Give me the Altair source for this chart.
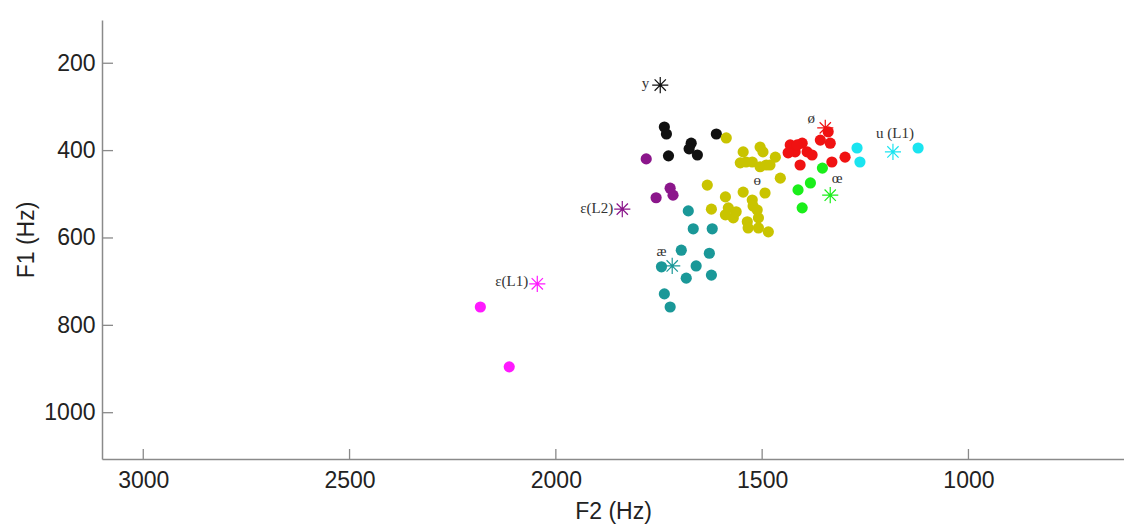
import altair as alt
import pandas as pd

# ---- data (F2, F1 in Hz) ----
groups = ["y", "ε(L2)", "ε(L1)", "æ", "ɵ", "ø", "œ", "u (L1)"]
colors = ["#111111", "#8b168b", "#ff1aff", "#1a9898", "#c9c400", "#f01212", "#1aee1a", "#1ae4f0"]

y_f2 = [1737, 1732, 1727, 1672, 1677, 1657, 1611]
y_f1 = [346, 362, 412, 383, 396, 410, 362]

eL2_f2 = [1781, 1757, 1723, 1716]
eL2_f1 = [419, 508, 486, 502]

eL1_f2 = [2183, 2113]
eL1_f1 = [758, 895]

ae_f2 = [1679, 1667, 1621, 1696, 1628, 1744, 1660, 1684, 1623, 1737, 1723]
ae_f1 = [538, 579, 579, 628, 635, 666, 664, 692, 685, 728, 758]

oe_bar_f2 = [1587, 1546, 1505, 1498, 1468, 1553, 1539, 1524, 1505, 1490, 1481, 1456,
             1633, 1546, 1493, 1589, 1524, 1522, 1623, 1582, 1589, 1570, 1512, 1509,
             1536, 1534, 1509, 1485, 1563]
oe_bar_f1 = [371, 403, 392, 403, 415, 428, 426, 426, 437, 433, 433, 463,
             479, 495, 497, 506, 513, 527, 534, 531, 547, 554, 536, 554,
             563, 577, 577, 586, 540]

o_sl_f2 = [1340, 1359, 1335, 1432, 1403, 1420, 1391, 1379, 1408, 1331, 1299, 1437, 1415]
o_sl_f1 = [357, 376, 383, 387, 383, 403, 403, 410, 433, 426, 415, 405, 387]

oe_f2 = [1354, 1383, 1413, 1403]
oe_f1 = [440, 474, 490, 531]

u_f2 = [1270, 1263, 1122]
u_f1 = [394, 426, 394]

# reference (star) values
star_groups = ["y", "ε(L2)", "ε(L1)", "æ", "ø", "œ", "u (L1)"]
star_f2 = [1747, 1839, 2045, 1718, 1347, 1335, 1183]
star_f1 = [250, 534, 705, 664, 348, 502, 403]

# text labels
label_text = ["y", "ε(L2)", "ε(L1)", "æ", "ɵ", "ø", "œ", "u (L1)"]
label_f2 = [1783, 1861, 2067, 1744, 1512, 1381, 1318, 1178]
label_f1 = [245, 531, 699, 630, 467, 325, 463, 360]
label_align = ["center", "right", "right", "center", "center", "center", "center", "center"]

x_ticks = [3000, 2500, 2000, 1500, 1000]
y_ticks = [200, 400, 600, 800, 1000]

# ---- build tables ----
series = [
    ("y", y_f2, y_f1), ("ε(L2)", eL2_f2, eL2_f1), ("ε(L1)", eL1_f2, eL1_f1),
    ("æ", ae_f2, ae_f1), ("ɵ", oe_bar_f2, oe_bar_f1), ("ø", o_sl_f2, o_sl_f1),
    ("œ", oe_f2, oe_f1), ("u (L1)", u_f2, u_f1),
]
rows = []
for g, xs, ys in series:
    for a, b in zip(xs, ys):
        rows.append({"group": g, "F2": a, "F1": b})
pts = pd.DataFrame(rows)
stars = pd.DataFrame({"group": star_groups, "F2": star_f2, "F1": star_f1})
labels = pd.DataFrame({"text": label_text, "F2": label_f2, "F1": label_f1, "align": label_align})
xt = pd.DataFrame({"F2": x_ticks})
yt = pd.DataFrame({"F1": y_ticks})

W, H = 1022, 439
FONT = "Liberation Sans"
FS = 23

xscale = alt.Scale(domain=[623, 3100], reverse=True, nice=False, zero=False)
yscale = alt.Scale(domain=[101, 1106], reverse=True, nice=False, zero=False)
xaxis = alt.Axis(values=x_ticks, format="d", ticks=False, tickSize=0, grid=False,
                 domainColor="#8a8a8a", domainWidth=1.5, labelFontSize=FS, labelFont=FONT,
                 labelColor="#222", labelPadding=10, titleFontSize=FS, titleFont=FONT,
                 titleColor="#222", titleFontWeight="normal", titleY=59,
                 titleBaseline="alphabetic", labelFlush=False)
yaxis = alt.Axis(values=y_ticks, format="d", ticks=False, tickSize=0, grid=False,
                 domainColor="#8a8a8a", domainWidth=1.5, labelFontSize=FS, labelFont=FONT,
                 labelColor="#222", labelPadding=7, titleFontSize=FS, titleFont=FONT,
                 titleColor="#222", titleFontWeight="normal", titleX=-76, titleY=H / 2,
                 titleAngle=270, titleAlign="center", titleBaseline="middle",
                 labelFlush=False)
X = alt.X("F2:Q", scale=xscale, axis=xaxis, title="F2 (Hz)")
Y = alt.Y("F1:Q", scale=yscale, axis=yaxis, title="F1 (Hz)")
C = alt.Color("group:N", scale=alt.Scale(domain=groups, range=colors), legend=None)

xtick_layer = alt.Chart(xt).mark_rule(color="#8a8a8a", strokeWidth=1.3).encode(
    x=X, y=alt.value(H), y2=alt.value(H - 10))
ytick_layer = alt.Chart(yt).mark_rule(color="#8a8a8a", strokeWidth=1.3).encode(
    y=Y, x=alt.value(0), x2=alt.value(11))

dots = alt.Chart(pts).mark_circle(size=125, opacity=1).encode(x=X, y=Y, color=C)

star_path = "M-1,0L1,0M0,-1L0,1M-0.7,-0.7L0.7,0.7M-0.7,0.7L0.7,-0.7"
star_layer = alt.Chart(stars).mark_point(shape=star_path, filled=False, size=260,
                                         strokeWidth=1.2, opacity=1).encode(
    x=X, y=Y, color=C)

text_layers = []
for al in ["center", "right"]:
    text_layers.append(
        alt.Chart(labels).transform_filter(alt.datum.align == al).mark_text(
            font="Liberation Serif", fontSize=15, color="#333", align=al, baseline="middle"
        ).encode(x=X, y=Y, text="text:N")
    )

chart = alt.layer(xtick_layer, ytick_layer, dots, star_layer, *text_layers).properties(
    width=W, height=H,
    padding={"left": 102, "top": 20, "right": 0, "bottom": 65},
    autosize=alt.AutoSizeParams(type="none"),
    background="white",
).configure_view(stroke=None)

chart.save("out.html", embed_options={"renderer": "svg", "actions": False})
